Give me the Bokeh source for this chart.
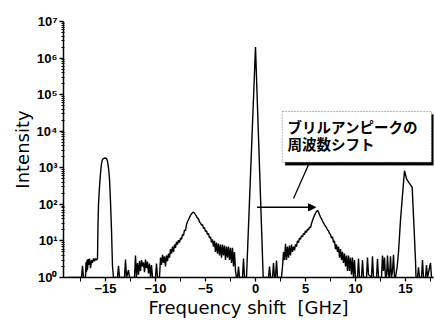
from bokeh.plotting import figure
from bokeh.models import (FixedTicker, CustomJSTickFormatter, BoxAnnotation, Label,
                          Arrow, NormalHead)
from bokeh.embed import file_html
from bokeh.resources import INLINE

# ---- data (GHz, counts) ----
freq_ghz = [
    -18.8, -17.4, -17.3, -17.2, -17.0, -16.95, -16.9, -16.85, -16.8, -16.75, -16.7, -16.6,
    -16.5, -16.4, -16.3, -16.2, -16.1, -16.0, -15.9, -15.8,
    -15.75, -15.7, -15.6, -15.5, -15.4, -15.3, -15.1, -14.9, -14.8, -14.7, -14.6, -14.5,
    -14.4, -14.3, -14.2,
    -14.0, -13.8, -13.7, -13.6, -13.1, -13.0, -12.9, -12.7, -12.6, -12.1, -12.0, -11.9,
    -11.8, -11.7, -11.6, -11.5, -11.4, -11.3, -11.2, -11.1, -11.0, -10.9, -10.8, -10.7,
    -10.6, -10.5, -10.4, -10.3, -10.0, -9.9, -9.8, -9.6, -9.5, -9.4, -9.3, -9.2, -9.1,
    -9.0, -8.9, -8.8, -8.7,
    -8.6, -8.5, -8.4, -8.3, -8.2, -8.1, -8.0, -7.9, -7.8, -7.7, -7.6, -7.5, -7.4, -7.3,
    -7.2, -7.1, -7.0, -6.9, -6.8, -6.7, -6.6, -6.5, -6.4, -6.3, -6.2, -6.1, -6.0, -5.9,
    -5.8, -5.7, -5.6, -5.5, -5.4, -5.3, -5.2, -5.1, -5.0, -4.9, -4.8, -4.7, -4.6, -4.5,
    -4.4, -4.3, -4.2, -4.1, -4.0, -3.9, -3.8, -3.7, -3.6, -3.5, -3.4, -3.3, -3.2, -3.1,
    -3.0, -2.9, -2.8, -2.7, -2.6, -2.5, -2.4, -2.3, -2.2, -2.1, -2.0, -1.9,
    -1.8, -1.7, -1.6, -1.3, -1.2, -1.1, -0.9,
    -0.6, -0.3, 0.0, 0.25, 0.5, 0.77,
    1.0, 1.3, 1.4, 1.5, 1.7, 1.8, 1.9, 2.0, 2.1, 2.2, 2.6,
    2.7, 2.8, 2.9, 3.0, 3.1, 3.2, 3.3, 3.4, 3.5, 3.6, 3.7, 3.8, 3.9, 4.0, 4.1, 4.2, 4.3,
    4.4, 4.5, 4.6, 4.7, 4.8, 4.9, 5.0, 5.1, 5.2, 5.3, 5.4, 5.5, 5.6, 5.7, 5.8, 5.9, 6.0,
    6.1, 6.2, 6.3, 6.4, 6.5, 6.6, 6.7, 6.8, 6.9, 7.0, 7.1, 7.2, 7.3, 7.4, 7.5, 7.6, 7.7,
    7.8, 7.9, 8.0, 8.1, 8.2, 8.3, 8.4, 8.5, 8.6, 8.7, 8.8, 8.9, 9.0, 9.1, 9.2, 9.3, 9.4,
    9.5, 9.6, 9.7, 9.8, 9.9, 10.0,
    10.2, 10.3, 10.4, 10.6, 10.7, 10.8, 11.1, 11.2, 11.3, 11.6, 11.7, 11.8, 12.1, 12.2,
    12.3, 12.6, 12.7, 12.8, 12.9, 13.0, 13.1, 13.2, 13.3, 13.4, 13.5, 13.6, 13.7, 13.8,
    13.9, 14.0,
    14.17, 14.3, 14.5, 14.7, 14.9, 15.1, 15.33, 15.67, 15.85, 16.0, 16.05,
    16.2, 16.3, 16.4, 16.6, 16.7, 16.8, 17.0, 17.1, 17.2, 17.5, 17.6, 18.0,
]
intensity = [
    1, 1, 2.1, 1, 1, 2.6, 1.4, 3.0, 1.6, 3.2, 2.2, 3.3,
    1.8, 3.0, 2.5, 3.3, 2.8, 3.3, 3.0, 3.3,
    30, 100, 300, 700, 1300, 1700, 1850, 1800, 1500, 1000, 500, 120,
    20, 2, 1,
    1, 1, 2.1, 1, 1, 3.1, 1, 1.6, 1, 1, 4.0, 1,
    2.5, 1.2, 2.8, 1.5, 3.0, 2.0, 2.6, 1.4, 3.1, 1.8, 2.7, 1.3,
    2.4, 1, 2.2, 1, 1, 2.4, 1, 1, 3.5, 2.2, 4.2, 2.5, 3.8,
    2.0, 4.0, 2.8, 4.5,
    3.5, 6, 4.5, 7, 5, 8, 6.5, 9.5, 8, 10.5, 9, 12, 11, 15,
    14, 20, 19, 28, 34, 38, 44, 50, 55, 59, 61, 58, 52, 47,
    42, 40, 33, 31, 27, 28, 22, 23, 18, 19, 15, 16, 12, 13,
    9, 11, 7, 10, 5, 9, 4.5, 8.5, 4, 8, 3.5, 8, 4, 7.5,
    3, 7, 3.5, 7, 3, 6.5, 2.5, 6.5, 2, 5, 1.5, 1,
    1, 2, 1, 1, 3.3, 1, 1,
    126, 16000, 2.0e6, 18000, 160, 1,
    1, 1, 2, 1, 1, 2.5, 1, 1, 2.9, 1, 1,
    2, 5, 3, 8.4, 3, 7, 3.5, 7.5, 4, 8, 5, 7, 5.5, 8, 7, 10, 9,
    12, 11, 14, 13, 16, 15, 19, 17, 21, 20, 24, 23, 30, 36, 43, 50, 57,
    64, 68, 62, 52, 45, 40, 35, 31, 28, 25, 23, 20, 19, 16, 15, 12, 13,
    9, 10, 6, 8, 5, 7, 3.5, 6, 3, 5, 2.5, 4.5, 2, 4, 1.5, 4, 1.5,
    3.5, 1.2, 3.5, 1, 3, 1,
    1, 3.3, 1, 1, 3.0, 1, 1, 3.5, 1.2, 1, 3.8, 1, 1, 3.2,
    1, 1, 4.0, 1.5, 3.5, 1, 1, 4.0, 1.2, 1, 3.8, 1, 1.5, 4.2,
    1, 1,
    2, 5, 37, 180, 830, 500, 400, 290, 24, 2.9, 1,
    1, 1.9, 1, 1, 3.0, 1, 1, 2.2, 1, 2.5, 1, 1,
]

x_major_ticks = [-15, -10, -5, 0, 5, 10, 15]
x_minor_ticks = [-17.5, -12.5, -7.5, -2.5, 2.5, 7.5, 12.5, 17.5]
y_major_ticks = [1e0, 1e1, 1e2, 1e3, 1e4, 1e5, 1e6, 1e7]
y_minor_ticks = [m * 10 ** d for d in range(7) for m in range(2, 10)]

callout_line1 = "ブリルアンピークの"
callout_line2 = "周波数シフト"

p = figure(width=435, height=320, y_axis_type="log",
           x_range=(-19.2, 17.8), y_range=(1, 1e7),
           output_backend="svg", toolbar_location=None,
           min_border_left=63, min_border_top=21, min_border_right=2,
           min_border_bottom=43)
p.outline_line_color = None
p.xgrid.visible = False
p.ygrid.visible = False
p.background_fill_color = "white"

p.line(freq_ghz, intensity, line_color="black", line_width=1.4)

# axes
p.xaxis.ticker = FixedTicker(ticks=x_major_ticks, minor_ticks=x_minor_ticks)
p.xaxis.formatter = CustomJSTickFormatter(
    code="return tick < 0 ? '\u2212' + Math.abs(tick) : String(tick);")
p.yaxis.ticker = FixedTicker(ticks=y_major_ticks, minor_ticks=y_minor_ticks)
p.yaxis.formatter = CustomJSTickFormatter(code="""
const sup = ['\u2070','\u00b9','\u00b2','\u00b3','\u2074','\u2075','\u2076','\u2077'];
return '10' + sup[Math.round(Math.log10(tick))];
""")
for ax in (p.xaxis[0], p.yaxis[0]):
    ax.axis_line_width = 1.5
    ax.axis_line_color = "black"
    ax.major_tick_line_color = "black"
    ax.minor_tick_line_color = "black"
    ax.major_tick_line_width = 1.3
    ax.major_tick_in = 0
    ax.major_tick_out = 4
    ax.major_label_text_font = "Liberation Sans"
    ax.major_label_text_font_style = "bold"
    ax.major_label_text_font_size = "13px"
    ax.major_label_text_color = "black"
    ax.major_label_standoff = 2
    ax.axis_label_text_font = "DejaVu Sans"
    ax.axis_label_text_font_style = "normal"
    ax.axis_label_text_font_size = "18px"
    ax.axis_label_text_color = "black"
    ax.axis_label_standoff = 1
p.xaxis.minor_tick_in = 0
p.xaxis.minor_tick_out = 4
p.yaxis.minor_tick_in = 1
p.yaxis.minor_tick_out = 2
p.xaxis.axis_label = "Frequency shift\u00a0 [GHz]"
p.yaxis.axis_label = "Intensity"

# callout box with shadow
shadow = BoxAnnotation(left=2.97, right=17.85, bottom=10 ** 3.07, top=10 ** 4.46,
                       fill_color="black", fill_alpha=1.0, line_color="black")
box = BoxAnnotation(left=2.67, right=17.6, bottom=10 ** 3.15, top=10 ** 4.54,
                    fill_color="white", fill_alpha=1.0, line_color="black",
                    line_width=1, line_dash="2 1")
p.add_layout(shadow)
p.add_layout(box)
for txt, yy in ((callout_line1, 10 ** 4.13), (callout_line2, 10 ** 3.66)):
    p.add_layout(Label(x=3.2, y=yy, text=txt, text_font="Noto Sans CJK JP",
                       text_font_style="bold", text_font_size="14.5px",
                       text_baseline="middle", text_color="black"))

# pointer line and shift arrow
p.segment(x0=5.3, y0=10 ** 3.08, x1=3.8, y1=10 ** 2.16, line_color="black",
          line_width=1.3)
p.add_layout(Arrow(end=NormalHead(size=7, fill_color="black", line_color="black"),
                   x_start=0.15, y_start=83, x_end=6.0, y_end=83,
                   line_color="black", line_width=1.5))

open("out.html", "w").write(file_html(p, INLINE))
